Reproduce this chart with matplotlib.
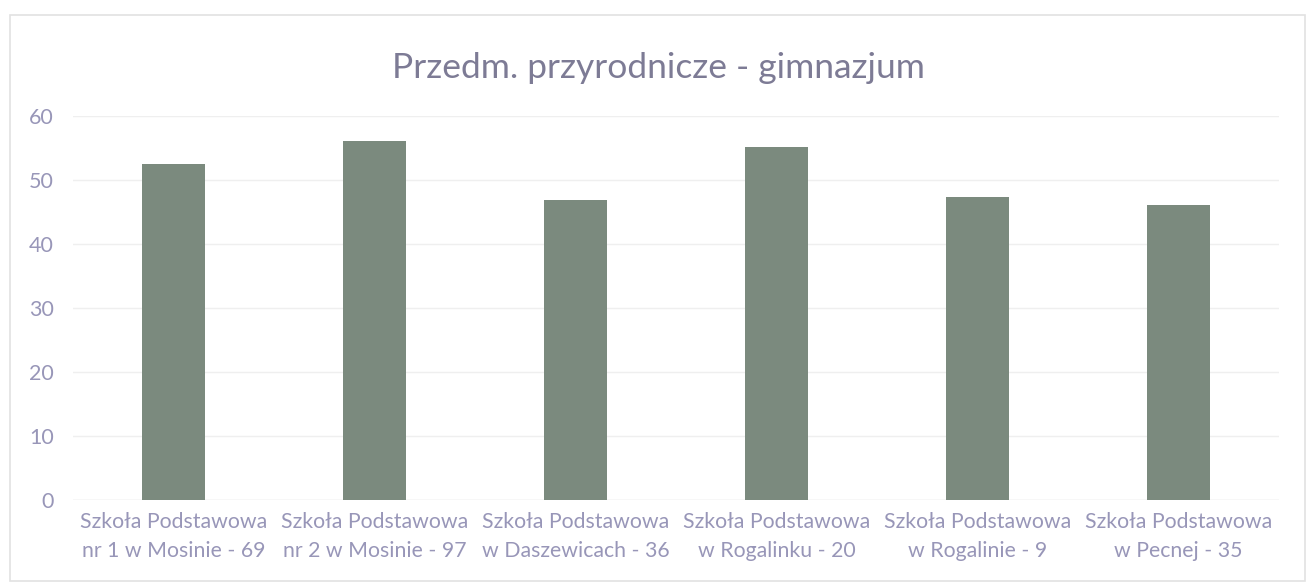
import matplotlib
matplotlib.use("Agg")
import matplotlib.pyplot as plt
from matplotlib.patches import Rectangle

categories = [
    "Szkoła Podstawowa\nnr 1 w Mosinie - 69",
    "Szkoła Podstawowa\nnr 2 w Mosinie - 97",
    "Szkoła Podstawowa\nw Daszewicach - 36",
    "Szkoła Podstawowa\nw Rogalinku - 20",
    "Szkoła Podstawowa\nw Rogalinie - 9",
    "Szkoła Podstawowa\nw Pecnej - 35",
]
values = [52.5, 56.1, 46.8, 55.2, 47.3, 46.1]
yticks = [0, 10, 20, 30, 40, 50, 60]
title = "Przedm. przyrodnicze - gimnazjum"

plt.rcParams['font.family'] = ['Lato', 'DejaVu Sans']

fig = plt.figure(figsize=(13.11, 5.84), dpi=100)
fig.patch.set_facecolor("white")
# faint outer chart border
fig.add_artist(Rectangle((10/1311, 3/584), 1295/1311, 566/584, transform=fig.transFigure,
                         fill=False, edgecolor="#e2e2e2", linewidth=1.2))

ax = fig.add_axes([73/1311, 84/584, 1206/1311, 384/584])
x = list(range(len(categories)))
ax.bar(x, values, width=0.31, color="#7b8a7e", zorder=3)
ax.set_xlim(-0.5, len(categories) - 0.5)
ax.set_ylim(0, 60)
ax.set_yticks(yticks)
ax.set_xticks(x)
ax.set_xticklabels(categories, fontsize=15.3, color="#9896b8", linespacing=1.55)
ax.tick_params(axis="y", labelsize=15.5, labelcolor="#9896b8", length=0, pad=14)
ax.tick_params(axis="x", length=0, pad=9)
ax.grid(axis="y", color="#efefef", linewidth=1, zorder=0)
for s in ax.spines.values():
    s.set_visible(False)
ax.axhline(0, color="#e6e6e6", linewidth=1, zorder=1)

fig.text(658/1311, 1 - 68/584, title, ha="center", va="center",
         fontsize=25.5, color="#7d7b95")

fig.savefig("out.png", dpi=100, facecolor="white")
